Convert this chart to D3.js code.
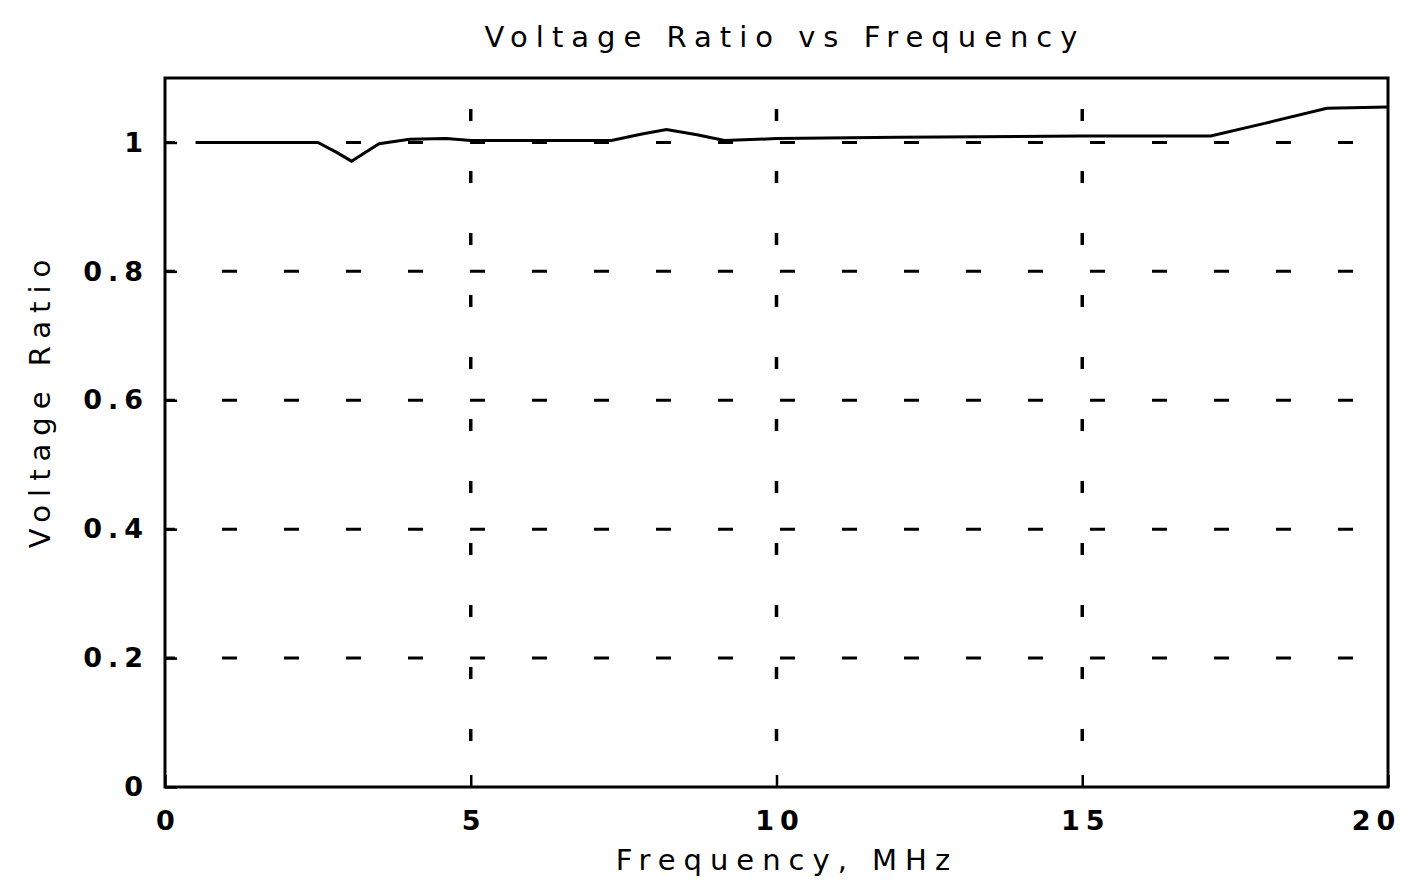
<!DOCTYPE html>
<meta charset="utf-8">
<head>
  <title>Voltage Ratio vs Frequency</title>
  <style>
    body { margin: 0; background: #fff; }
    text { font-family: "DejaVu Sans", sans-serif; fill: #000; }
  </style>
</head>
<body>
  <svg width="1406" height="884"></svg>

  <script src="https://cdnjs.cloudflare.com/ajax/libs/d3/7.8.5/d3.min.js"></script>
  <script>
// values
var freq = [0.5, 2.5, 2.8, 3.05, 3.5, 4.0, 4.6, 5.0, 7.3, 7.8, 8.2, 8.7, 9.15, 10.0, 12.0, 15.0, 17.1, 18.0, 19.0, 20.0];
var ratio = [1.0, 1.0, 0.985, 0.971, 0.998, 1.005, 1.006, 1.003, 1.003, 1.013, 1.02, 1.012, 1.003, 1.006, 1.008, 1.01, 1.01, 1.03, 1.053, 1.055];
var xTicks = [0, 5, 10, 15, 20];
var yTicks = [0, 0.2, 0.4, 0.6, 0.8, 1];

var plotL = 165, plotR = 1388, plotT = 78, plotB = 787;

var x = d3.scaleLinear().domain([0, 20]).range([plotL, plotR]);
var y = d3.scaleLinear().domain([0, 1.1]).range([plotB, plotT]);

var svg = d3.select('svg');

// dashed grid
svg.append('g')
	.selectAll('line')
	.data(yTicks.filter(function(d) { return d > 0; }))
	.enter()
	.append('line')
	.attr('x1', plotL).attr('x2', plotR)
	.attr('y1', function(d) { return y(d); })
	.attr('y2', function(d) { return y(d); })
	.style('stroke', '#000')
	.style('stroke-width', 3)
	.style('stroke-dasharray', '15,47')
	.style('stroke-dashoffset', 5);

svg.append('g')
	.selectAll('line')
	.data(xTicks.filter(function(d) { return d > 0 && d < 20; }))
	.enter()
	.append('line')
	.attr('x1', function(d) { return x(d); })
	.attr('x2', function(d) { return x(d); })
	.attr('y1', plotB).attr('y2', plotT)
	.style('stroke', '#000')
	.style('stroke-width', 3.5)
	.style('stroke-dasharray', '12,50')
	.style('stroke-dashoffset', 16);

// axes with inward ticks
var xAxis = svg.append('g')
	.attr('transform', 'translate(0,' + plotB + ')')
	.call(d3.axisBottom(x).tickValues(xTicks).tickSize(-12).tickPadding(24).tickFormat(d3.format('d')));

var yAxis = svg.append('g')
	.attr('transform', 'translate(' + plotL + ',0)')
	.call(d3.axisLeft(y).tickValues(yTicks).tickSize(-12).tickPadding(16).tickFormat(function(d) { return d === 0 || d === 1 ? d : d3.format('.1f')(d); }));

[xAxis, yAxis].forEach(function(a) {
	a.select('.domain').remove();
	a.selectAll('line').style('stroke', '#000').style('stroke-width', 2.5);
	a.selectAll('text')
		.style('font-size', '27px')
		.style('font-weight', 'bold')
		.style('letter-spacing', '6px')
		.style('fill', '#000');
});
xAxis.selectAll('text').attr('dx', '3');
xAxis.selectAll('.tick').filter(function(d) { return d === 20; }).select('text').attr('dx', '-12');

// frame
svg.append('rect')
	.attr('x', plotL).attr('y', plotT)
	.attr('width', plotR - plotL).attr('height', plotB - plotT)
	.style('fill', 'none')
	.style('stroke', '#000')
	.style('stroke-width', 3);

// data line
var line = d3.line()
	.x(function(d, i) { return x(freq[i]); })
	.y(function(d) { return y(d); });

svg.append('path')
	.datum(ratio)
	.attr('d', line)
	.style('fill', 'none')
	.style('stroke', '#000')
	.style('stroke-width', 3);

// titles
svg.append('text')
	.attr('x', 785).attr('y', 47)
	.attr('text-anchor', 'middle')
	.style('font-size', '29px')
	.style('letter-spacing', '8px')
	.text('Voltage Ratio vs Frequency');

svg.append('text')
	.attr('x', 787).attr('y', 870)
	.attr('text-anchor', 'middle')
	.style('font-size', '29px')
	.style('letter-spacing', '8px')
	.text('Frequency, MHz');

svg.append('text')
	.attr('transform', 'translate(50,400) rotate(-90)')
	.attr('text-anchor', 'middle')
	.style('font-size', '29px')
	.style('letter-spacing', '8px')
	.text('Voltage Ratio');
  </script>
</body>
</html>
